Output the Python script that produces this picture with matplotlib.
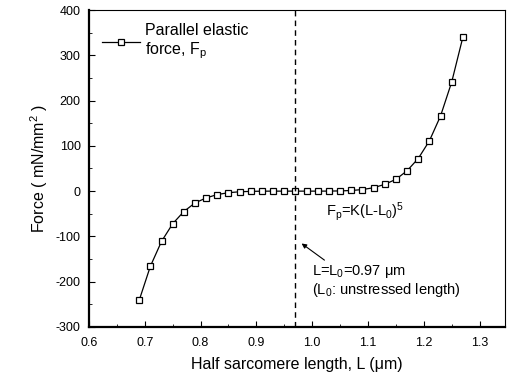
import matplotlib
matplotlib.use('agg')
import matplotlib.pyplot as plt
from matplotlib.ticker import MultipleLocator

plt.rcParams['font.family'] = ['Liberation Sans', 'DejaVu Sans']
plt.rcParams['mathtext.fontset'] = 'custom'
plt.rcParams['mathtext.rm'] = 'Liberation Sans'
plt.rcParams['mathtext.it'] = 'Liberation Sans'
plt.rcParams['axes.unicode_minus'] = False

# half sarcomere length (um) and parallel elastic force (mN/mm^2)
length = [0.69, 0.71, 0.73, 0.75, 0.77, 0.79, 0.81, 0.83, 0.85, 0.87,
          0.89, 0.91, 0.93, 0.95, 0.97, 0.99, 1.01, 1.03, 1.05, 1.07,
          1.09, 1.11, 1.13, 1.15, 1.17, 1.19, 1.21, 1.23, 1.25, 1.27]
force = [-241, -166, -111, -72, -45, -26, -15, -7.5, -3.5, -1.4,
         -0.5, -0.1, 0, 0, 0, 0, 0, 0.1, 0.5, 1.4,
         3.5, 7.5, 15, 26, 45, 72, 111, 166, 241, 340]
L0 = 0.97

fig = plt.figure(figsize=(5.07, 3.78), dpi=100)
ax = fig.add_axes([0.1755, 0.135, 0.82, 0.8385])

ax.plot(length, force, 's-', color='black', lw=0.9, ms=5,
        mfc='white', mec='black', mew=0.9, label='Parallel elastic\nforce, F$_\\mathregular{p}$')
ax.axvline(L0, color='black', ls='--', lw=1.0, dashes=(4, 3))

ax.set_xlim(0.6, 1.345)
ax.set_ylim(-300, 400)
ax.xaxis.set_major_locator(MultipleLocator(0.1))
ax.xaxis.set_minor_locator(MultipleLocator(0.05))
ax.yaxis.set_major_locator(MultipleLocator(100))
ax.yaxis.set_minor_locator(MultipleLocator(50))
ax.tick_params(which='both', direction='in', labelsize=9)
ax.tick_params(axis='x', which='major', length=4, pad=7)
ax.tick_params(axis='y', which='major', length=4, pad=6)
ax.tick_params(which='minor', length=2)
for s in ['left', 'bottom']:
    ax.spines[s].set_linewidth(1.6)

ax.set_xlabel('Half sarcomere length, L (\u03bcm)', fontsize=11.5, labelpad=6)
ax.set_ylabel('Force ( mN/mm$^\\mathregular{2}$ )', fontsize=11.5, labelpad=4)

ax.text(1.024, -44, 'F$_\\mathregular{p}$=K(L-L$_\\mathregular{0}$)$^\\mathregular{5}$',
        fontsize=10.5, va='center')
ax.text(1.0, -178, 'L=L$_\\mathregular{0}$=0.97 \u03bcm', fontsize=10.5, va='center')
ax.text(1.0, -218, '(L$_\\mathregular{0}$: unstressed length)', fontsize=10.5, va='center')
ax.annotate('', xy=(0.977, -112), xytext=(1.026, -156),
            arrowprops=dict(arrowstyle='-|>', color='black', lw=0.8,
                            mutation_scale=7))

ax.legend(loc='upper left', frameon=False, fontsize=11.5, handlelength=2.4,
          borderaxespad=0.3, handletextpad=0.3, borderpad=0.5)

fig.savefig('out.png', dpi=100)
